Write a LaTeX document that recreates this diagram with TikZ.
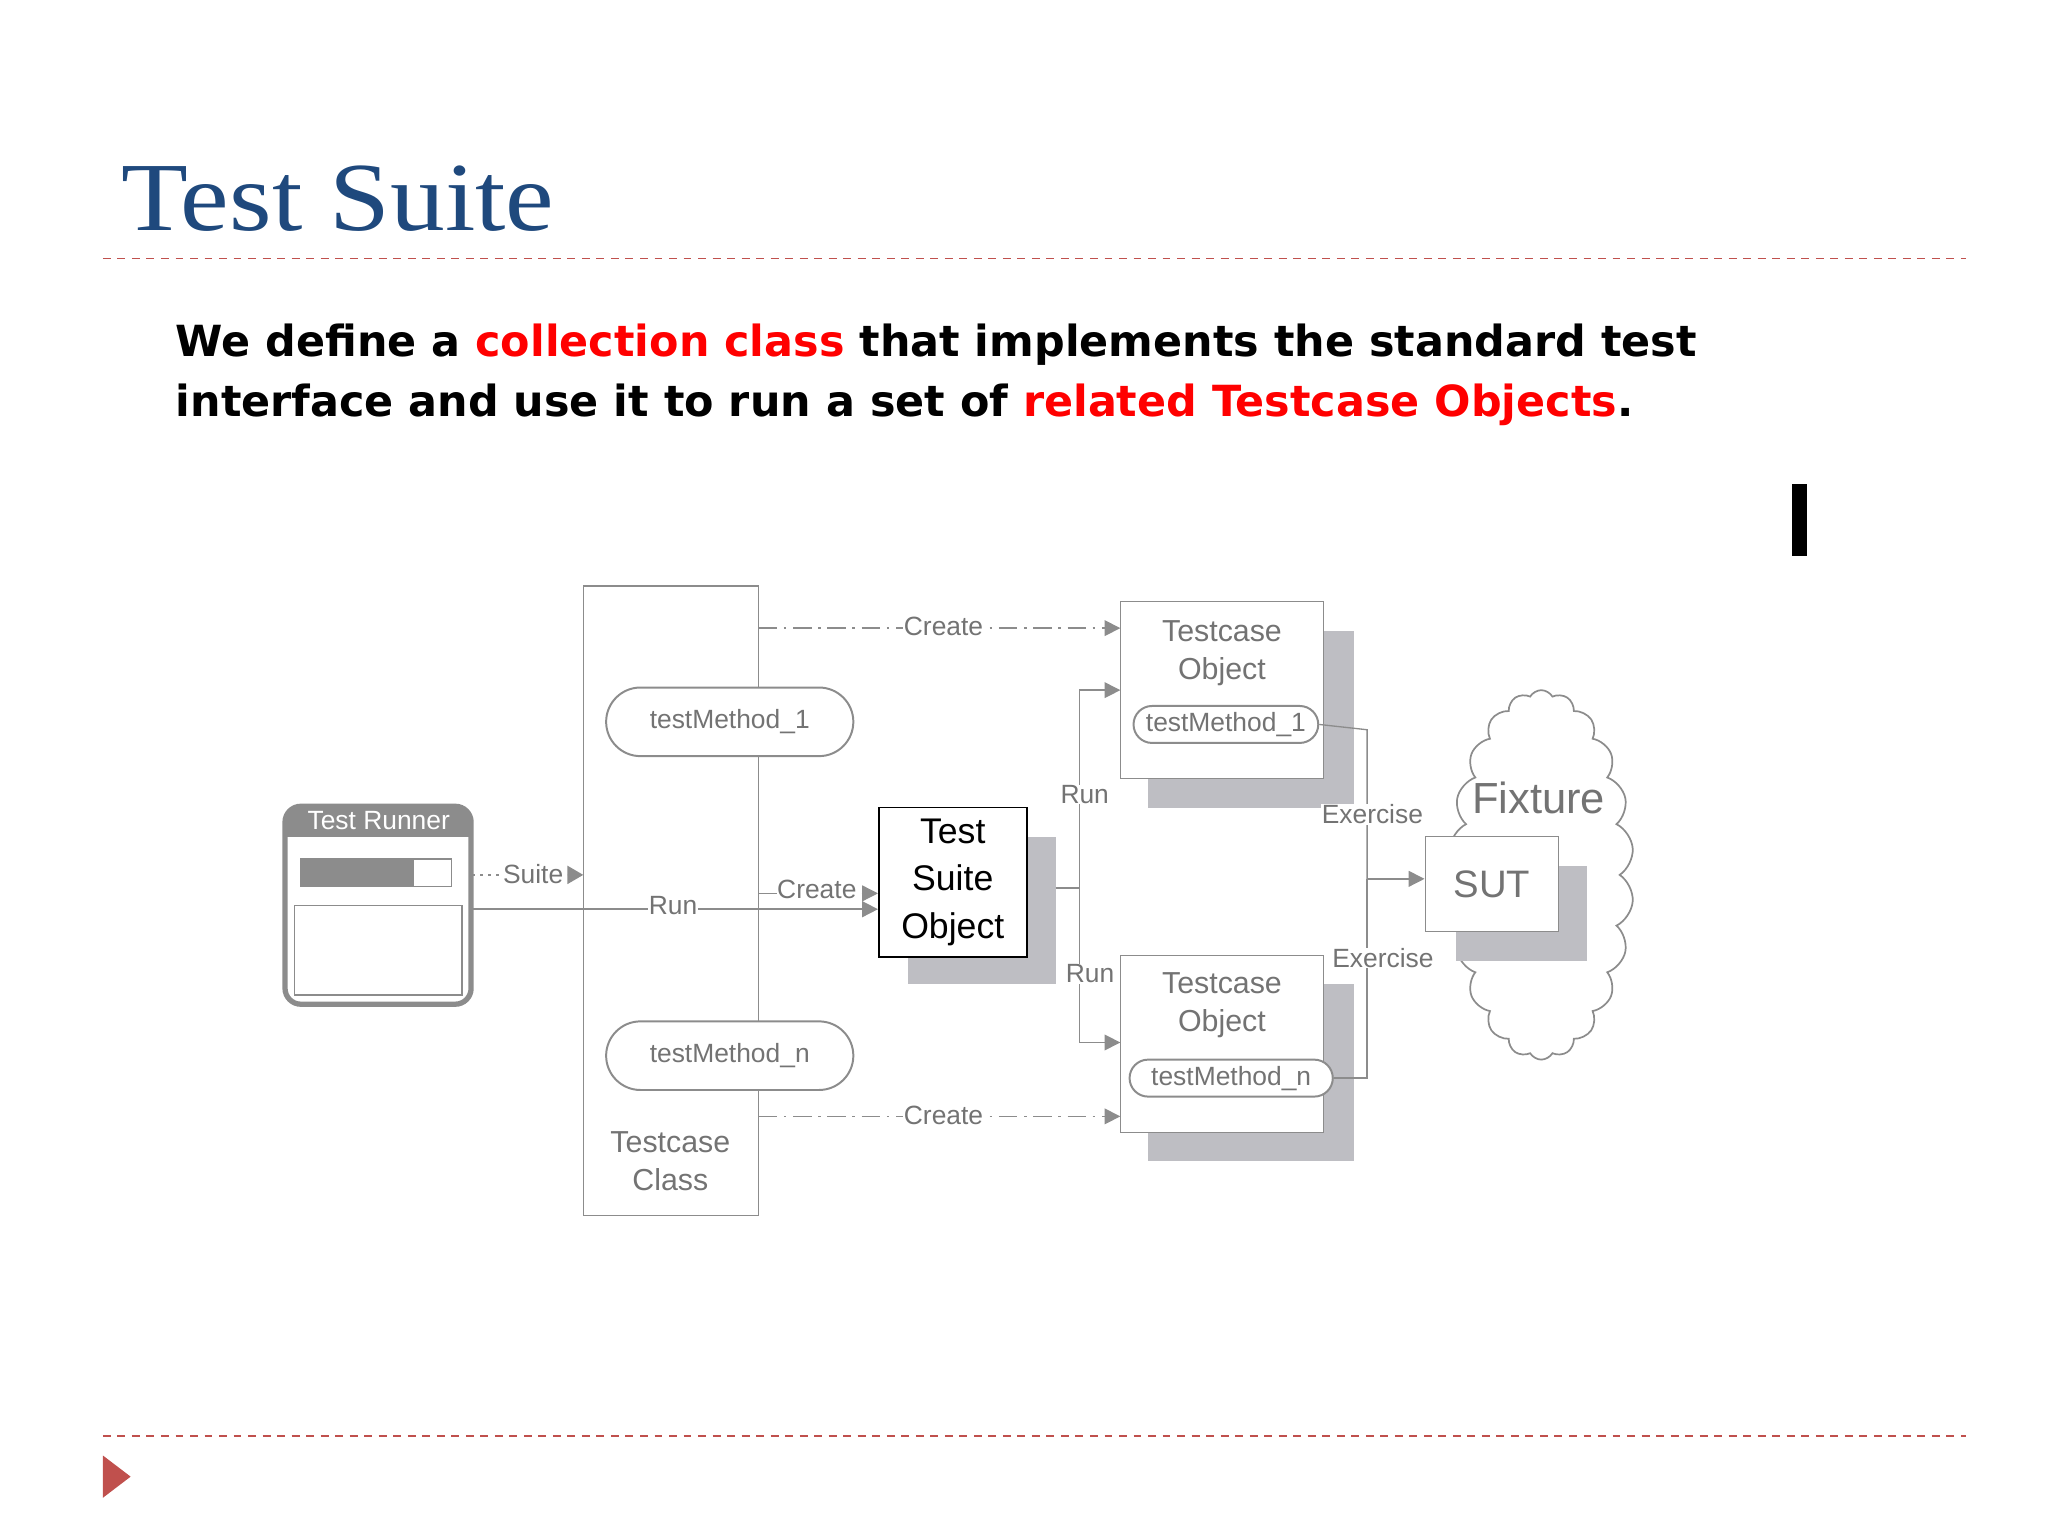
\documentclass[tikz,border=0pt]{standalone}
\usepackage{fontspec}
\setmainfont{Liberation Serif}
\newfontfamily\bodyf{DejaVu Sans}
\newfontfamily\diaf{Liberation Sans}
\usetikzlibrary{arrows.meta,shapes.symbols,shapes.misc}
\definecolor{ttl}{RGB}{31,73,125}
\definecolor{rline}{RGB}{192,80,77}
\definecolor{ln}{RGB}{140,140,140}
\definecolor{tx}{RGB}{115,115,115}
\definecolor{shd}{RGB}{190,190,195}
\tikzset{
  dl/.style={font=\diaf\fontsize{20}{23}\selectfont, text=tx},
  lab/.style={dl, fill=white, inner sep=0.5pt},
  gl/.style={draw=ln, line width=1.3pt},
  arr/.style={gl, -{Triangle[length=12pt,width=12pt]}, shorten >=0pt},
  pill/.style={draw=ln, line width=1.5pt, rounded rectangle, fill=white, dl},
  dd/.style={dash pattern=on 14pt off 5pt on 2pt off 5pt}
}
\begin{document}
\begin{tikzpicture}[x=1pt,y=-1pt]
\useasboundingbox (0,0) rectangle (1552,1164);
% title
\node[anchor=base west, inner sep=0, text=ttl, font=\fontsize{74}{80}\selectfont] (title) at (92,175) {\scalebox{1.12}[1]{Test Suite}};
\draw[rline, line width=1.3pt, dash pattern=on 6pt off 5pt] (78,196) -- (1490,196);
\draw[rline, line width=1.3pt, dash pattern=on 6pt off 5pt] (78,1088) -- (1490,1088);
\fill[rline] (78,1103) -- (99,1119) -- (78,1135) -- cycle;
% body
\node[anchor=base west, inner sep=0, font=\bodyf\bfseries\fontsize{32.5}{38}\selectfont] (b1) at (133,270) {We define a \textcolor{red}{collection class} that implements the standard test};
\node[anchor=base west, inner sep=0, font=\bodyf\bfseries\fontsize{32.5}{38}\selectfont] (b2) at (133,316) {interface and use it to run a set of \textcolor{red}{related Testcase Objects}.};
\fill[black] (1358,367) rectangle (1369,421);
% testcase class
\draw[gl, line width=1pt] (442,444) rectangle (575,921);
\node[dl, align=center, font=\diaf\fontsize{23}{29}\selectfont] (tcl) at (508,880) {Testcase\\Class};
\node[pill, minimum width=194, minimum height=52] (m1) at (553,547) {testMethod\_1};
\node[pill, minimum width=194, minimum height=52] (mn) at (553,800) {testMethod\_n};
% test runner
\draw[ln, line width=4pt, rounded corners=12pt] (216,611) rectangle (357,761);
\fill[ln, rounded corners=10pt] (216,611) rectangle (357,634);
\fill[ln] (216,624) rectangle (357,634);
\node[font=\diaf\fontsize{20}{23}\selectfont, text=white] (trl) at (287,622) {Test Runner};
\draw[ln, line width=1pt] (228,651) rectangle (342,672);
\fill[ln] (228,651) rectangle (314,672);
\draw[ln, line width=1pt] (223,686) rectangle (350,754);
\coordinate (tr1) at (358,663);
\coordinate (tr2) at (358,689);
% suite object
\fill[shd] (688,634) rectangle (800,746);
\node[draw=black, line width=1.3pt, fill=white, minimum width=112, minimum height=113, align=center, font=\diaf\fontsize{27}{36}\selectfont] (tso) at (722,668.5) {Test\\Suite\\Object};
% testcase objects
\fill[shd] (870,478) rectangle (1026,612);
\draw[ln, line width=1pt, fill=white] (849,456) rectangle (1003,590);
\node[dl, align=center, font=\diaf\fontsize{23}{29}\selectfont] (to1) at (926,495) {Testcase\\Object};
\node[pill, minimum width=142, minimum height=28, inner sep=1pt] (p1) at (929,549) {testMethod\_1};
\fill[shd] (870,746) rectangle (1026,880);
\draw[ln, line width=1pt, fill=white] (849,724) rectangle (1003,858);
\node[dl, align=center, font=\diaf\fontsize{23}{29}\selectfont] (to2) at (926,762) {Testcase\\Object};
\node[pill, minimum width=156, minimum height=28, inner sep=1pt] (pn) at (933,817) {testMethod\_n};
% cloud
\node[cloud, draw=ln, line width=1.3pt, cloud puffs=22, cloud puff arc=120, minimum width=140, minimum height=280, aspect=0.5] (cl) at (1168,663) {};
\node[dl, font=\diaf\fontsize{33}{36}\selectfont] (fx) at (1166,605) {Fixture};
\fill[shd] (1103,656) rectangle (1203,728);
\node[draw=ln, line width=1pt, fill=white, minimum width=101, minimum height=72, dl, font=\diaf\fontsize{29}{32}\selectfont] (sut) at (1130.5,670) {SUT};
% connectors
\draw[ln, line width=1pt, dash pattern=on 2pt off 4pt] (tr1) -- (430,663);
\fill[ln] (430,656) -- (442,663) -- (430,670) -- cycle;
\node[lab] at (404,662) {Suite};
\draw[arr] (tr2) -- (tso.west |- 0,689);
\node[lab] at (510,686) {Run};
\draw[arr, dd, line width=1pt] (575,677) -- (tso.west |- 0,677);
\node[lab] at (619,674) {Create};
\draw[arr, dd, line width=1pt] (575,476) -- (849,476);
\node[lab] at (715,475) {Create};
\draw[arr, dd, line width=1pt] (575,846) -- (849,846);
\node[lab] at (715,845) {Create};
\draw[gl, line width=1pt] (800,673) -- (818,673);
\draw[arr, line width=1pt] (818,673) |- (849,523);
\draw[arr, line width=1pt] (818,673) |- (849,790);
\node[lab] at (822,602) {Run};
\node[lab] at (826,738) {Run};
\draw[gl, line width=1pt] (p1.east) -- (1036,553) -- (1036,666);
\draw[gl, line width=1pt] (pn.east) -- (1036,817) -- (1036,666);
\draw[arr, line width=1pt] (1036,666) -- (sut.west |- 0,666);
\node[lab] at (1040,617) {Exercise};
\node[lab] at (1048,726) {Exercise};
\end{tikzpicture}
\end{document}
